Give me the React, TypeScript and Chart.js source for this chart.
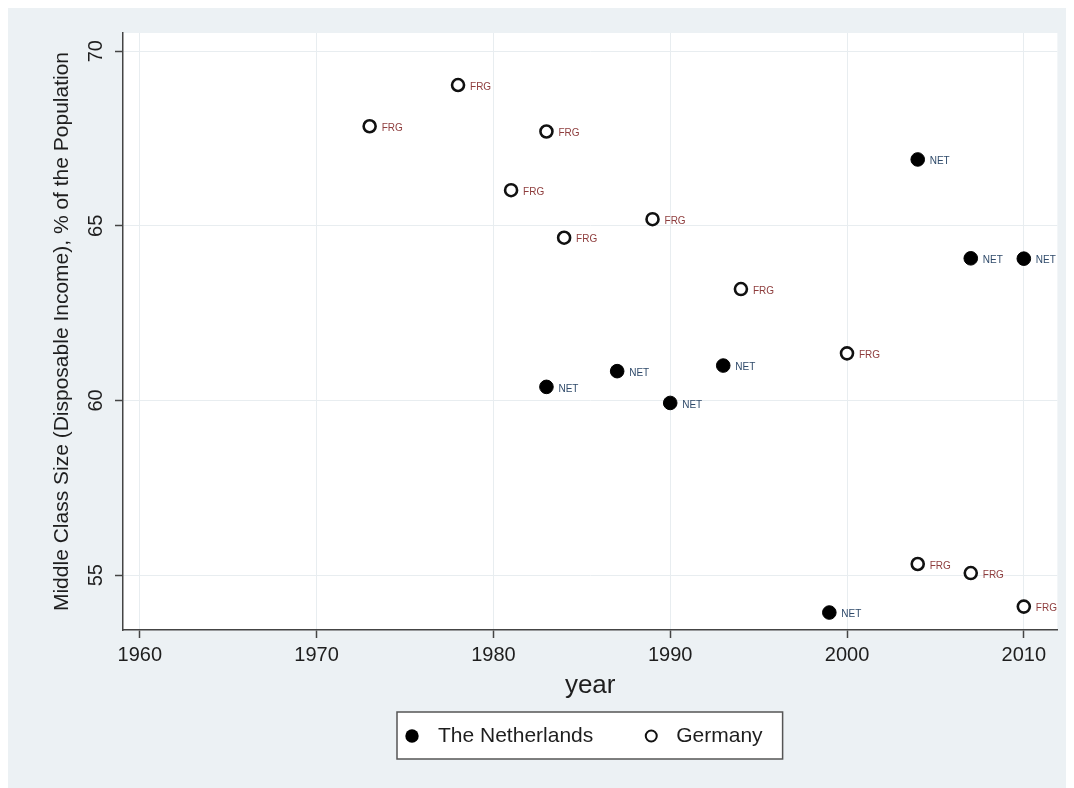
import React, { useEffect, useRef } from "react";
import { Chart, registerables } from "chart.js";

Chart.register(...registerables);

const netYears = [1983, 1987, 1990, 1993, 1999, 2004, 2007, 2010];
const netValues = [60.39, 60.84, 59.93, 61.0, 53.93, 66.9, 64.07, 64.06];
const frgYears = [1973, 1978, 1981, 1983, 1984, 1989, 1994, 2000, 2004, 2007, 2010];
const frgValues = [67.85, 69.03, 66.02, 67.7, 64.66, 65.19, 63.19, 61.35, 55.32, 55.06, 54.1];

const seriesNames = ["The Netherlands", "Germany"];
const seriesCodes = ["NET", "FRG"];
const codeColors = ["#2f4a6a", "#8e3d3d"];
const xTicks = [1960, 1970, 1980, 1990, 2000, 2010];
const yTicks = [55, 60, 65, 70];
const xTitle = "year";
const yTitle = "Middle Class Size (Disposable Income), % of the Population";

const FONT = "'Liberation Sans', Arial, Helvetica, sans-serif";
const AXIS = "#444444";
const GRID = "#e8edf0";
const TEXT = "#1e1e1e";

const bgPlugin = {
  id: "plotBg",
  beforeDraw(chart: any) {
    const { ctx, chartArea: a } = chart;
    ctx.save();
    ctx.fillStyle = "#ffffff";
    ctx.fillRect(a.left, a.top, a.right - a.left, a.bottom - a.top);
    ctx.restore();
  },
};

const yTickPlugin = {
  id: "yTickRot",
  afterDraw(chart: any) {
    const { ctx } = chart;
    const ys = chart.scales.y;
    ctx.save();
    ctx.font = `20px ${FONT}`;
    ctx.fillStyle = TEXT;
    ctx.textAlign = "center";
    ctx.textBaseline = "middle";
    ys.ticks.forEach((t: any) => {
      const py = ys.getPixelForValue(t.value);
      ctx.save();
      ctx.translate(ys.right - 27, py);
      ctx.rotate(-Math.PI / 2);
      ctx.fillText(String(t.value), 0, 0);
      ctx.restore();
    });
    ctx.restore();
  },
};

const pointLabelPlugin = {
  id: "pointLabels",
  afterDatasetsDraw(chart: any) {
    const { ctx } = chart;
    ctx.save();
    ctx.font = `10px ${FONT}`;
    ctx.textAlign = "left";
    ctx.textBaseline = "middle";
    chart.data.datasets.forEach((ds: any, i: number) => {
      const meta = chart.getDatasetMeta(i);
      ctx.fillStyle = codeColors[i];
      meta.data.forEach((el: any) => {
        ctx.fillText(seriesCodes[i], el.x + 12, el.y + 2);
      });
    });
    ctx.restore();
  },
};

const legendPlugin = {
  id: "boxLegend",
  afterDraw(chart: any) {
    const { ctx, chartArea: a } = chart;
    ctx.save();
    ctx.font = `21px ${FONT}`;
    const w1 = ctx.measureText(seriesNames[0]).width;
    const w2 = ctx.measureText(seriesNames[1]).width;
    const width = 144 + w1 + w2;
    const cx = (a.left + a.right) / 2;
    const L = Math.round(cx - width / 2);
    const top = 704;
    const h = 47;
    const mid = top + h / 2 + 0.5;
    ctx.fillStyle = "#ffffff";
    ctx.fillRect(L, top, width, h);
    ctx.strokeStyle = "#555555";
    ctx.lineWidth = 1.5;
    ctx.strokeRect(L, top, width, h);

    const ds = chart.data.datasets;
    const c1 = L + 15;
    ctx.beginPath();
    ctx.arc(c1, mid, 6.7, 0, Math.PI * 2);
    ctx.fillStyle = ds[0].backgroundColor;
    ctx.fill();
    ctx.fillStyle = TEXT;
    ctx.textAlign = "left";
    ctx.textBaseline = "middle";
    const t1 = L + 41;
    ctx.fillText(seriesNames[0], t1, mid);
    const c2 = t1 + w1 + 58;
    ctx.beginPath();
    ctx.arc(c2, mid, 5.5, 0, Math.PI * 2);
    ctx.fillStyle = ds[1].backgroundColor;
    ctx.fill();
    ctx.lineWidth = 2;
    ctx.strokeStyle = ds[1].borderColor;
    ctx.stroke();
    ctx.fillStyle = TEXT;
    ctx.fillText(seriesNames[1], c2 + 25, mid);
    ctx.restore();
  },
};

export default function App() {
  const ref = useRef<HTMLCanvasElement>(null);

  useEffect(() => {
    if (!ref.current) return;
    const chart = new Chart(ref.current, {
      type: "scatter",
      data: {
        datasets: [
          {
            label: seriesNames[0],
            data: netYears.map((x, i) => ({ x, y: netValues[i] })),
            backgroundColor: "#000000",
            borderColor: "#000000",
            borderWidth: 1,
            pointRadius: 6.8,
          },
          {
            label: seriesNames[1],
            data: frgYears.map((x, i) => ({ x, y: frgValues[i] })),
            backgroundColor: "#ffffff",
            borderColor: "#111111",
            borderWidth: 2.6,
            pointRadius: 6,
          },
        ],
      },
      options: {
        animation: false,
        responsive: false,
        events: [],
        layout: { padding: { left: 0, top: 25, right: 6, bottom: 76 } },
        plugins: {
          legend: { display: false },
          tooltip: { enabled: false },
        },
        scales: {
          x: {
            type: "linear",
            min: 1959.05,
            max: 2011.9,
            afterBuildTicks: (s: any) => {
              s.ticks = xTicks.map((v) => ({ value: v }));
            },
            afterFit: (s: any) => {
              s.height = 82;
            },
            ticks: {
              color: TEXT,
              font: { family: FONT, size: 20 },
              padding: 5,
              maxRotation: 0,
              autoSkip: false,
              callback: (v: any) => String(v),
            },
            grid: {
              color: GRID,
              lineWidth: 1,
              drawTicks: true,
              tickLength: 8,
              tickColor: AXIS,
              tickWidth: 1.5,
            },
            border: { display: true, color: AXIS, width: 1.5 },
            title: {
              display: true,
              text: xTitle,
              color: TEXT,
              font: { family: FONT, size: 26 },
              padding: { top: 0, bottom: 11 },
            },
          },
          y: {
            type: "linear",
            min: 53.43,
            max: 70.52,
            afterBuildTicks: (s: any) => {
              s.ticks = yTicks.map((v) => ({ value: v }));
            },
            afterFit: (s: any) => {
              s.width = 115;
            },
            ticks: { display: false },
            grid: {
              color: GRID,
              lineWidth: 1,
              drawTicks: true,
              tickLength: 8,
              tickColor: AXIS,
              tickWidth: 1.5,
            },
            border: { display: true, color: AXIS, width: 1.5 },
            title: {
              display: true,
              text: yTitle,
              color: TEXT,
              font: { family: FONT, size: 21 },
              padding: { top: 42, bottom: 0 },
            },
          },
        },
      },
      plugins: [bgPlugin, yTickPlugin, pointLabelPlugin, legendPlugin],
    } as any);
    return () => chart.destroy();
  }, []);

  return (
    <div style={{ width: 1066, height: 780, background: "#ecf1f4" }}>
      <canvas ref={ref} width={1058} height={780} style={{ display: "block" }} />
    </div>
  );
}
